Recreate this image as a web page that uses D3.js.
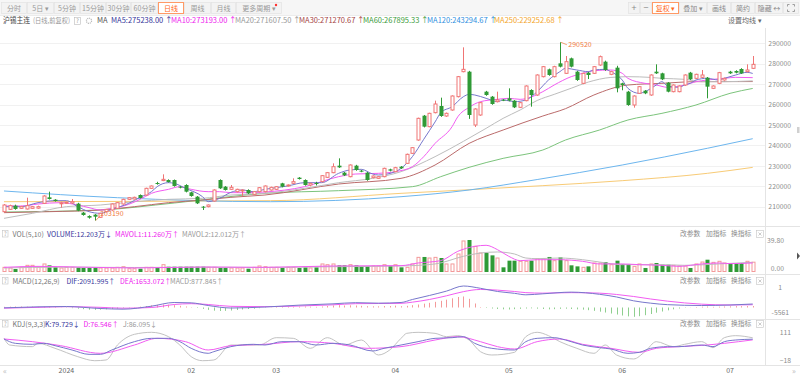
<!DOCTYPE html>
<html>
<head>
<meta charset="utf-8">
<script src="https://cdn.jsdelivr.net/npm/d3@7"></script>
<style>
  body { margin: 0; background: #fff; }
  #chart { width: 800px; height: 377px; overflow: hidden; }
</style>
</head>
<body>
<div id="chart"></div>
<script>
// ---- trading days (沪锡主连, 日线) ----
const decDays = [15,18,19,20,21,22,25,26,27,28,29];
const janDays = [2,3,4,5,8,9,10,11,12,15,16,17,18,19,22,23,24,25,26,29,30,31];
const febDays = [1,2,5,6,7,8,19,20,21,22,23,26,27,28,29];
const marDays = [1,4,5,6,7,8,11,12,13,14,15,18,19,20,21,22,25,26,27,28,29];
const aprDays = [1,2,3,8,9,10,11,12,15,16,17,18,19,22,23,24,25,26,29,30];
const mayDays = [6,7,8,9,10,13,14,15,16,17,20,21,22,23,24,27,28,29,30,31];
const junDays = [3,4,5,6,7,11,12,13,14,17,18,19,20,21,24,25,26,27,28];
const julDays = [1,2,3,4,5];

const xTickDates  = ['2024-01-02','2024-02-01','2024-03-01','2024-04-01','2024-05-06','2024-06-03','2024-07-01'];
const xTickLabels = ['2024','02','03','04','05','06','07'];

// ---- OHLC ----
const opens = [
  207568,208710,210506,209200,208874,209200,209300,211648,214586,213443,
  211700,211648,211811,211485,207078,205446,206099,204794,207568,208384,
  209200,211322,213606,213770,215728,215728,218992,221600,222800,223072,
  223072,219808,220624,217034,214912,210016,210016,212790,223072,219808,
  218502,217360,217900,218176,216054,217360,217360,218175,218502,221440,
  220134,221440,224214,223072,220624,221600,222256,224378,226662,230090,
  226662,224704,230090,227642,226662,224214,223888,224704,228294,227152,
  229600,231232,236128,242656,254570,249184,256038,259302,254406,257344,
  263872,276112,276112,250000,254896,266320,263872,261424,262400,263056,
  261914,258650,261914,267136,264688,273664,277254,273664,280192,275296,
  282640,276112,270400,275622,275296,279376,281008,274806,278070,270400,
  266320,259792,265504,266810,264688,276112,275296,270726,266320,266320,
  269584,275622,272848,273338,273174,267952,270400,272032,276112,276438,
  277417,276112,277744
];
const highs = [
  211300,211000,211000,210400,214422,210300,210500,215600,217360,213700,
  212400,212400,213770,211900,207400,205800,206400,207000,208900,211600,
  212300,213900,214700,214900,216000,219300,220400,222200,225846,223400,
  223300,220100,221000,217300,215200,210300,211100,218500,223400,220100,
  220624,218800,218500,218500,217700,219600,220400,219800,220100,221700,
  220900,223888,224500,223400,221700,222200,225500,227000,231232,233680,
  227000,230700,230500,228000,227000,225300,225000,229100,228600,229500,
  229900,236000,239200,253600,254900,256000,261914,263382,256100,264500,
  274000,288026,276500,258200,261300,266700,264200,266320,262700,267952,
  262200,261300,269400,267500,274800,278900,277600,279000,290520,283782,
  283000,276500,275600,276000,278900,284000,281500,276500,279000,270700,
  266700,264500,269100,267100,274800,279702,275600,271000,269900,269400,
  274800,276000,275100,276928,273500,269400,276000,273200,276500,276800,
  277800,279702,283782
];
const lows = [
  207100,208400,208500,208900,208600,209000,209000,211300,213500,212500,
  209526,211400,211500,207800,205600,204141,203190,204500,207200,208000,
  209000,211000,213300,213500,214000,215400,218700,220800,222500,221800,
  219800,219000,217000,214900,211300,208384,209700,212500,218700,217900,
  218200,217000,215238,216200,215800,217000,217000,217900,218200,219500,
  219900,221200,223300,220300,220000,220400,222000,224100,226400,229000,
  225000,224400,227600,226900,222700,223900,223600,224400,227300,226900,
  228500,230900,235800,242300,248800,248900,255700,254000,254000,257000,
  263500,275800,253000,249000,254500,264300,259900,261100,261700,261600,
  258300,258300,261600,258976,264300,273300,274100,273300,278200,275000,
  278200,271600,270000,272500,275000,279000,276500,274400,266000,267000,
  259400,258486,265200,265100,264300,275000,272000,266000,266000,266000,
  269200,272000,272500,273000,263056,267600,270000,271700,275000,275300,
  275000,275800,277400
];
const closes = [
  210832,210506,208874,210016,210506,210016,210016,215238,213770,212790,
  211900,212138,212464,208058,205936,204630,205120,206752,208710,211322,
  211974,213606,214422,214586,214259,218992,220134,221300,223400,222093,
  220134,219482,217360,215238,211648,209526,210832,218176,218992,218176,
  219482,218502,218176,216544,217360,219318,220134,219482,219808,219808,
  220624,222256,223562,220624,221440,221300,225194,226662,229600,229274,
  225357,230416,227968,227152,223072,225030,224704,228784,227642,229110,
  228784,235638,238902,253264,249184,255712,260282,254406,255712,264198,
  273664,277254,254896,257834,260934,264688,260282,262240,262000,261914,
  258650,260934,269094,264688,274480,278560,274480,278560,278560,281008,
  278560,272032,275296,274480,278560,283456,276928,276112,267952,269584,
  259792,264198,268768,265504,274480,275296,272358,266320,269584,269094,
  274480,272358,274806,274480,268768,269094,275622,272848,275296,275622,
  275296,276928,279702
];
// volume, 万手
const volumes = [
  5.8,5.0,3.7,5.8,8.3,8.3,6.2,10.0,8.3,6.2,
  5.0,5.8,5.8,5.8,5.0,5.0,5.8,5.0,5.0,5.0,
  5.8,6.6,4.1,4.1,4.1,5.8,5.8,5.8,9.1,6.6,
  6.6,6.6,6.6,6.6,6.6,6.6,5.8,5.8,5.0,5.0,
  5.0,5.0,5.0,4.1,5.8,7.5,6.6,5.8,5.8,5.0,
  5.8,5.8,5.0,5.8,5.0,5.8,10.0,9.1,10.0,8.3,
  8.3,9.1,8.3,7.5,7.5,7.5,7.5,9.1,7.5,9.1,
  5.8,5.8,10.0,18.2,18.7,17.4,18.2,17.4,10.0,10.0,
  22.4,38.6,39.8,31.9,23.6,23.6,20.7,17.4,5.8,14.1,
  14.1,13.3,13.3,14.1,16.6,16.6,18.7,14.1,18.2,14.1,
  8.3,7.0,5.8,7.0,11.2,11.2,12.4,9.1,14.1,10.0,
  10.0,7.0,10.0,5.0,10.0,11.2,9.1,9.1,8.3,7.5,
  7.5,5.0,10.0,12.4,15.3,12.0,13.3,11.2,10.0,10.0,
  11.2,13.3,12.203
];

// ---- moving averages: [day index, value] ----
const ma5Pts = [[0,210016],[3,210016],[6,211974],[9,212954],[11,212954],[13,210016],[15,207568],[17,206752],[19,208710],[22,211648],[24,214586],[26,217360],[27,219808],[29,221766],[30,221440],[32,218992],[35,214912],[36,212464],[38,214096],[40,217034],[42,218176],[44,217360],[46,218502],[50,220134],[53,221766],[56,221766],[59,226336],[61,227968],[63,228294],[65,226010],[66,225520],[69,227152],[70,228784],[72,234496],[74,243000],[76,251500],[77,256000],[79,258976],[81,263872],[82,265000],[83,264688],[85,263056],[87,261424],[88,262240],[90,261424],[92,262240],[94,266320],[96,272032],[98,276112],[99,277744],[101,276928],[103,276112],[104,276928],[106,277254],[107,276112],[109,272032],[110,267952],[112,265504],[113,266320],[115,269584],[116,271216],[117,269094],[119,268442],[120,269584],[121,270400],[122,272032],[124,272848],[126,272032],[127,272848],[129,274480],[131,275786],[132,275238]];
const ma10Pts = [[0,210342],[3,210342],[6,211322],[10,211974],[13,210832],[15,209526],[17,208384],[19,209200],[22,211158],[24,213606],[26,216544],[29,218502],[31,219808],[33,218502],[36,217360],[38,217360],[40,216870],[43,216870],[46,217197],[53,219808],[59,224704],[62,226010],[66,226336],[69,227152],[72,229600],[74,234500],[76,241000],[79,249184],[80,254000],[82,258650],[84,261424],[87,262566],[89,263056],[91,262566],[95,266320],[97,269584],[100,273664],[102,275296],[104,276602],[107,276928],[109,275296],[110,272848],[113,270400],[115,269584],[117,268442],[120,269584],[122,271216],[124,272032],[127,272848],[129,273338],[132,273193]];
const ma20Pts = [[0,204304],[5,206752],[11,210016],[17,210832],[23,212464],[29,213606],[35,214096],[40,215728],[46,216544],[53,219000],[59,221766],[65,223888],[70,227152],[76,234500],[81,242000],[85,248368],[88,253264],[91,257344],[94,262000],[97,265000],[100,268000],[103,271000],[107,273300],[110,273656],[114,273300],[116,272848],[120,272358],[123,271216],[127,271216],[132,271607]];
const ma30Pts = [[0,207078],[8,207568],[17,208384],[23,210016],[29,211974],[35,213280],[40,214586],[46,215728],[59,221114],[70,223888],[76,230416],[82,241000],[88,247552],[95,254406],[99,258000],[104,264688],[110,269584],[116,270400],[122,271216],[132,271270]];
const ma60Pts = [[0,207400],[17,208400],[30,211800],[46,216560],[59,217850],[72,219808],[77,224704],[82,229274],[88,233680],[95,237760],[99,242656],[105,247552],[110,252448],[116,255712],[122,259792],[128,265504],[132,267895]];
const ma120Pts = [[0,217687],[20,214406],[47,212447],[70,214896],[82,218176],[94,223300],[109,230416],[124,238600],[132,243294]];
const ma250Pts = [[0,212447],[47,212950],[70,216544],[95,220300],[109,222736],[124,226336],[132,229252]];

const priceTicks = [210000,220000,230000,240000,250000,260000,270000,280000,290000];
const maLegend = ['MA5:275238.00','MA10:273193.00','MA20:271607.50','MA30:271270.67','MA60:267895.33','MA120:243294.67','MA250:229252.68'];
const highMark = 290520, lowMark = 203190;

// ---- volume averages ----
const mavol1Pts = [[0,5.8],[6,7.0],[13,6.2],[23,5.0],[35,6.2],[46,5.8],[58,7.5],[70,7.9],[73,11.2],[77,14.1],[80,25.7],[83,31.9],[85,33.2],[87,27.8],[89,19.5],[91,14.1],[94,15.3],[98,15.3],[102,13.3],[105,10.0],[109,10.0],[112,9.1],[116,8.3],[119,7.0],[123,10.0],[126,11.2],[128,10.4],[132,11.26]];
const mavol2Pts = [[0,5.0],[10,6.0],[23,5.6],[35,6.0],[46,5.6],[58,6.6],[70,7.5],[76,10.0],[81,19.5],[84,23.6],[87,24.9],[90,22.4],[92,17.4],[94,16.6],[98,17.4],[102,15.3],[105,12.4],[109,9.1],[112,9.1],[116,9.1],[120,8.3],[126,10.0],[132,12.012]];
const volLegend = ['VOLUME:12.203万','MAVOL1:11.260万','MAVOL2:12.012万'];

// ---- MACD(12,26,9) ----
const difPts = [[0,-200],[6,400],[11,600],[17,-600],[21,-1000],[26,800],[30,3000],[33,2800],[36,1200],[40,-300],[46,300],[52,1400],[58,2200],[62,2900],[66,2600],[70,3000],[72,4800],[75,7200],[78,9800],[81,12874],[84,11500],[87,9600],[90,8500],[92,7600],[95,8200],[100,9200],[105,7900],[108,6300],[111,4000],[114,2600],[117,1700],[123,1200],[128,1500],[132,2092]];
const deaPts = [[0,-400],[6,100],[11,500],[17,100],[21,-400],[26,0],[30,1800],[33,2300],[36,1800],[40,700],[46,500],[52,900],[58,1600],[62,2300],[66,2400],[70,2500],[72,3200],[75,4800],[78,7000],[81,9500],[84,10800],[87,10400],[90,9600],[92,8900],[95,8600],[100,8900],[105,8600],[108,7800],[111,6600],[114,5100],[117,3800],[123,2000],[128,1500],[132,1653]];
const macdHist = [
  400,500,600,600,500,500,400,500,500,300,100,
  -200,-400,-700,-1000,-1300,-1400,-1300,-1100,-900,-700,-400,-200,
  200,500,900,1300,1600,1800,1700,1400,1000,600,200,-300,
  -800,-1400,-1900,-2100,-2000,-1800,-1500,-1200,-900,-700,-400,-200,
  100,300,400,500,400,500,600,500,400,600,900,1200,1400,1200,1300,1200,1000,800,700,700,900,900,1100,
  800,1000,1400,1800,2300,2800,3400,4000,4700,5500,6300,6600,5200,2400,300,
  -300,-600,-900,-1100,-1200,-1000,-800,-600,-500,-700,-900,-1100,-1000,-800,-700,-900,-1100,-1300,-1600,-2000,-2500,-3000,-3600,
  -4200,-4800,-5300,-5561,-5200,-4600,-3900,-3100,-2400,-1700,-1100,-600,-200,
  100,300,500,600,400,500,600,700,800,800,850,878
];
const macdLegend = ['DIF:2091.995','DEA:1653.072','MACD:877.845'];
const macdAxisLabels = ['1','-5561'];

// ---- KDJ(9,3,3) ----
const kPts = [[0,80.6],[2,60.9],[5,56.4],[7,60.9],[9,50.3],[12,30.6],[15,10.9],[17,10.9],[19,30.6],[23,68.5],[26,83.6],[29,83.6],[31,68.5],[33,38.2],[36,15.5],[37,23.1],[40,45.8],[44,56.4],[46,53.3],[49,68.5],[52,68.5],[55,53.3],[58,60.9],[61,53.3],[65,26.1],[67,38.2],[70,53.3],[73,68.5],[76,83.6],[79,86.6],[81,91.2],[83,60.9],[86,38.2],[90,30.6],[92,68.5],[94,83.6],[97,86.6],[99,76.0],[102,53.3],[105,41.2],[107,35.2],[110,15.5],[112,20.0],[114,38.2],[117,45.8],[119,45.8],[123,53.3],[125,45.8],[127,68.5],[129,76.0],[132,79.729]];
const dPts = [[0,80.6],[5,68.5],[10,50.3],[17,15.5],[23,53.3],[27,83.6],[32,68.5],[36,30.6],[40,50.3],[46,56.4],[52,68.5],[58,60.9],[64,38.2],[70,45.8],[76,76.0],[80,91.2],[84,68.5],[87,45.8],[90,35.2],[94,68.5],[98,80.6],[102,56.4],[107,38.2],[112,20.0],[115,38.2],[119,45.8],[124,53.3],[127,60.9],[132,76.546]];
const jPts = [[0,83.6],[1,53.3],[5,45.8],[6,60.9],[9,38.2],[13,0.3],[16,-18],[18,-14.8],[20,53.3],[23,101.8],[26,110.9],[29,91.2],[31,53.3],[33,0.3],[35,-18],[37,-14.8],[40,53.3],[45,53.3],[48,86.6],[51,83.6],[54,38.2],[57,86.6],[60,53.3],[63,76.0],[66,7.9],[68,30.6],[70,83.6],[71,106.3],[73,110.9],[76,106.3],[78,91.2],[80,95.7],[82,76.0],[84,23.1],[86,7.9],[90,20.0],[91,53.3],[92,91.2],[94,111],[96,95.7],[98,68.5],[101,38.2],[104,15.5],[106,53.3],[108,7.9],[111,-10.2],[113,23.1],[115,68.5],[118,45.8],[120,56.4],[123,68.5],[125,41.2],[127,86.6],[129,95.7],[132,86.095]];
const kdjLegend = ['K:79.729','D:76.546','J:86.095'];
const kdjAxisTicks = [111, -18];

// ---------------------------------------------------------------
const pad = d => String(d).padStart(2, '0');
const dates = [].concat(
  decDays.map(d => `2023-12-${pad(d)}`),
  janDays.map(d => `2024-01-${pad(d)}`),
  febDays.map(d => `2024-02-${pad(d)}`),
  marDays.map(d => `2024-03-${pad(d)}`),
  aprDays.map(d => `2024-04-${pad(d)}`),
  mayDays.map(d => `2024-05-${pad(d)}`),
  junDays.map(d => `2024-06-${pad(d)}`),
  julDays.map(d => `2024-07-${pad(d)}`)
);
const bars = dates.map((d, i) => ({
  date: d, o: opens[i], h: highs[i], l: lows[i], c: closes[i], v: volumes[i], m: macdHist[i]
}));

const W = 800, H = 377;
const axisX = 765;           // left edge of the right axis column
const FONT = '"Noto Sans CJK SC", "Noto Sans", sans-serif';
const UP = '#f07474', DOWN = '#2f9a36';
const GRID = '#f1f1f1', SEP = '#e4e4e4';

const svg = d3.select('#chart').append('svg')
  .attr('width', W).attr('height', H)
  .attr('viewBox', `0 0 ${W} ${H}`)
  .style('font-family', FONT);

svg.append('rect').attr('width', W).attr('height', H).attr('fill', '#fff');

// scales
const x = d3.scaleBand().domain(dates).range([1.16, 755.54])
  .paddingInner(0.3).paddingOuter(0.15);
const cx = d => x(d) + x.bandwidth() / 2;
const px = i => Math.round(cx(dates[i])) + 0.5;

const yP = d3.scaleLinear().domain([210000, 290000]).range([206.7, 43.3]);
const yV = d3.scaleLinear().domain([0, 39.8]).range([272, 240]);
const yM = d3.scaleLinear().domain([-5561, 12874]).range([316.8, 286]);
const yK = d3.scaleLinear().domain([-18, 111]).range([360.7, 332.3]);

const defs = svg.append('defs');
function clip(id, y0, y1) {
  defs.append('clipPath').attr('id', id).append('rect')
    .attr('x', 0).attr('y', y0).attr('width', axisX).attr('height', y1 - y0);
  return `url(#${id})`;
}

// ---------- toolbar ----------
svg.append('rect').attr('x', 0).attr('y', 0).attr('width', W).attr('height', 15.5).attr('fill', '#f6f6f6');
svg.append('line').attr('x1', 0).attr('x2', W).attr('y1', 15.5).attr('y2', 15.5).attr('stroke', '#ececec');

const tabLabels = ['分时','5日 ▾','5分钟','15分钟','30分钟','60分钟','日线','周线','月线','更多周期 ▾'];
const tabEdges = [1,27,54,80,106,131,158,184,211,236,282];
tabLabels.forEach((t, i) => {
  const x0 = tabEdges[i], x1 = tabEdges[i + 1];
  const active = t === '日线';
  svg.append('rect').attr('x', x0 + 0.5).attr('y', 2.5).attr('width', x1 - x0 - 1).attr('height', 11)
    .attr('fill', active ? '#fff' : '#f3f3f3')
    .attr('stroke', active ? '#ff9a66' : '#e3e3e3').attr('stroke-width', active ? 1 : 0.7);
  svg.append('text').attr('x', (x0 + x1) / 2).attr('y', 10.6).attr('text-anchor', 'middle')
    .attr('font-size', 7).attr('fill', active ? '#ff6a1a' : '#9a9a9a').text(t);
});
svg.append('circle').attr('cx', 276).attr('cy', 5).attr('r', 1.2).attr('fill', '#ff3030');

const toolLabels = ['+','−','复权 ▾','叠加 ▾','画线','简约','隐藏 ↔',''];
const toolEdges = [628,640,652,679,707,731,755,783,799];
toolLabels.forEach((t, i) => {
  const x0 = toolEdges[i], x1 = toolEdges[i + 1];
  const active = t.startsWith('复权');
  svg.append('rect').attr('x', x0 + 0.5).attr('y', 2.5).attr('width', x1 - x0 - 1).attr('height', 11)
    .attr('fill', active ? '#fff' : '#f3f3f3')
    .attr('stroke', active ? '#ff9a66' : '#e3e3e3').attr('stroke-width', active ? 1 : 0.7);
  svg.append('text').attr('x', (x0 + x1) / 2).attr('y', 10.6).attr('text-anchor', 'middle')
    .attr('font-size', t.length === 1 ? 9 : 7).attr('fill', active ? '#ff6a1a' : '#8a8a8a').text(t);
});
// fullscreen icon
const fx = 791, fy = 8;
[[-1,-1],[1,-1],[-1,1],[1,1]].forEach(([sx, sy]) => {
  svg.append('path')
    .attr('d', `M${fx + sx * 3.5},${fy + sy * 1.5}V${fy + sy * 3.5}H${fx + sx * 1.5}`)
    .attr('fill', 'none').attr('stroke', '#888').attr('stroke-width', 0.8);
});

// ---------- MA legend row ----------
const legY = 23.2;
svg.append('text').attr('x', 3).attr('y', legY).attr('font-size', 7.5).attr('fill', '#444')
  .attr('textLength', 27).attr('lengthAdjust', 'spacingAndGlyphs').text('沪锡主连');
svg.append('text').attr('x', 33).attr('y', legY).attr('font-size', 7).attr('fill', '#999')
  .attr('textLength', 37).attr('lengthAdjust', 'spacingAndGlyphs').text('(日线,前复权)');
svg.append('rect').attr('x', 74.5).attr('y', 17.5).attr('width', 6).attr('height', 7).attr('fill', '#fff').attr('stroke', '#bbb').attr('stroke-width', 0.6);
svg.append('text').attr('x', 77.5).attr('y', 23).attr('text-anchor', 'middle').attr('font-size', 6).attr('fill', '#999').text('?');
svg.append('circle').attr('cx', 89).attr('cy', 20.8).attr('r', 2.6).attr('fill', 'none').attr('stroke', '#bbb').attr('stroke-width', 1.2).attr('stroke-dasharray', '1.2 0.8');
svg.append('text').attr('x', 97).attr('y', legY).attr('font-size', 7.5).attr('fill', '#555').text('MA');

const maText = ['#35359a','#ee22ee','#9a9a9a','#a54545','#3b9b3b','#2f8fe0','#f3a52a'];
const maLine = ['#7777cc','#f25cf2','#bdbdbd','#bb6b6b','#7cc47c','#6db6ee','#f8cb76'];
const maX = [111, 171, 235, 299, 363, 427, 494];
maLegend.forEach((t, i) => {
  svg.append('text').attr('x', maX[i]).attr('y', legY).attr('font-size', 7.5).attr('fill', maText[i]).text(t + ' ↑');
});
svg.append('text').attr('x', 728).attr('y', legY).attr('font-size', 7).attr('fill', '#666').text('设置均线  ▾');

// ---------- frame / separators ----------
[226.5, 274.5, 319.5, 365.5].forEach(yy => {
  svg.append('line').attr('x1', 0).attr('x2', W).attr('y1', yy).attr('y2', yy).attr('stroke', SEP);
});
svg.append('line').attr('x1', axisX + 0.5).attr('x2', axisX + 0.5).attr('y1', 28).attr('y2', 365.5).attr('stroke', SEP);

// ---------- main panel ----------
const gMain = svg.append('g');
gMain.selectAll('.grid').data(priceTicks).enter().append('line')
  .attr('x1', 0).attr('x2', axisX).attr('y1', d => Math.round(yP(d)) + 0.5).attr('y2', d => Math.round(yP(d)) + 0.5)
  .attr('stroke', GRID);

const yAxis = svg.append('g').attr('transform', `translate(${axisX},0)`)
  .call(d3.axisRight(yP).tickValues(priceTicks).tickSize(0).tickFormat(d3.format('d')));
yAxis.select('.domain').remove();
yAxis.selectAll('text').attr('x', 26).attr('text-anchor', 'end')
  .attr('font-family', FONT).attr('font-size', 6.8).attr('fill', '#8c8c8c');

const mainClip = clip('clipMain', 28, 226);
const line = (ys) => d3.line().x(p => cx(dates[p[0]])).y(p => ys(p[1])).curve(d3.curveMonotoneX);
const maSets = [ma250Pts, ma120Pts, ma60Pts, ma30Pts, ma20Pts, ma10Pts, ma5Pts];
const maSetColors = [maLine[6], maLine[5], maLine[4], maLine[3], maLine[2], maLine[1], maLine[0]];
const gLines = gMain.append('g').attr('clip-path', mainClip);
maSets.forEach((pts, k) => {
  gLines.append('path').attr('d', line(yP)(pts)).attr('fill', 'none')
    .attr('stroke', maSetColors[k]).attr('stroke-width', 1);
});

const gC = gMain.append('g').attr('clip-path', mainClip);
const candle = gC.selectAll('.candle').data(bars).enter().append('g');
candle.append('line')
  .attr('x1', (d, i) => px(i)).attr('x2', (d, i) => px(i))
  .attr('y1', d => yP(d.h)).attr('y2', d => yP(d.l))
  .attr('stroke', d => d.c >= d.o ? UP : DOWN).attr('stroke-width', 1);
candle.append('rect')
  .attr('x', (d, i) => d.c >= d.o ? px(i) - 1.5 : px(i) - 2)
  .attr('width', d => d.c >= d.o ? 3 : 4)
  .attr('y', d => yP(Math.max(d.o, d.c)))
  .attr('height', d => Math.max(1, yP(Math.min(d.o, d.c)) - yP(Math.max(d.o, d.c))))
  .attr('fill', d => d.c >= d.o ? '#fff' : DOWN)
  .attr('stroke', d => d.c >= d.o ? UP : 'none').attr('stroke-width', 1);

// high / low marks
const hiI = highs.indexOf(highMark), loI = lows.indexOf(lowMark);
const hx = cx(dates[hiI]), hy = yP(highMark);
gMain.append('path').attr('d', `M${hx + 1},${hy}L${hx + 7},${hy + 2.5}`).attr('stroke', '#f08a55').attr('stroke-width', 0.8).attr('fill', 'none');
gMain.append('text').attr('x', hx + 8.5).attr('y', hy + 5.2).attr('font-size', 7).attr('fill', '#f07a40').text(String(highMark));
const lx = cx(dates[loI]), ly = yP(lowMark);
gMain.append('path').attr('d', `M${lx + 1},${ly}L${lx + 5},${ly - 4.5}`).attr('stroke', '#f08a55').attr('stroke-width', 0.8).attr('fill', 'none');
gMain.append('text').attr('x', lx + 5.5).attr('y', ly - 4.3).attr('font-size', 7).attr('fill', '#f07a40').text(String(lowMark));

// ---------- indicator panel headers ----------
function panelHeader(yMid, name, items, colors, xs) {
  svg.append('rect').attr('x', 2.5).attr('y', yMid - 3.5).attr('width', 5.5).attr('height', 6.5)
    .attr('fill', '#fff').attr('stroke', '#c4c4c4').attr('stroke-width', 0.6);
  svg.append('text').attr('x', 5.25).attr('y', yMid + 2.1).attr('text-anchor', 'middle')
    .attr('font-size', 5.5).attr('fill', '#999').text('?');
  svg.append('text').attr('x', 12.5).attr('y', yMid + 2.5).attr('font-size', 7).attr('fill', '#777').text(name);
  items.forEach((t, i) => {
    svg.append('text').attr('x', xs[i]).attr('y', yMid + 2.5).attr('font-size', 7)
      .attr('fill', colors[i]).text(t);
  });
  [['改参数', 680], ['加指标', 706], ['换指标', 731]].forEach(([t, xx]) => {
    svg.append('text').attr('x', xx).attr('y', yMid + 2.3).attr('font-size', 6.8).attr('fill', '#8a8a8a').text(t);
  });
  svg.append('rect').attr('x', 756.5).attr('y', yMid - 3.5).attr('width', 7).attr('height', 7)
    .attr('fill', '#fff').attr('stroke', '#c4c4c4').attr('stroke-width', 0.6);
  svg.append('path').attr('d', `M758.5,${yMid - 1.5}l3,3M761.5,${yMid - 1.5}l-3,3`)
    .attr('stroke', '#aaa').attr('stroke-width', 0.6);
}
const indColors = ['#35359a', '#ee22ee', '#999'];
panelHeader(234, 'VOL(5,10)', [volLegend[0] + '↓', volLegend[1] + '↑', volLegend[2] + '↑'], indColors, [47, 115, 182]);
panelHeader(281, 'MACD(12,26,9)', [macdLegend[0] + '↑', macdLegend[1] + '↑', macdLegend[2] + '↑'], indColors, [66.5, 120, 170]);
panelHeader(324, 'KDJ(9,3,3)', [kdjLegend[0] + '↓', kdjLegend[1] + '↑', kdjLegend[2] + '↓'], indColors, [45, 83.5, 123]);

// ---------- volume ----------
const gVol = svg.append('g').attr('clip-path', clip('clipVol', 238, 274));
gVol.selectAll('.vbar').data(bars).enter().append('rect')
  .attr('x', (d, i) => d.c >= d.o ? px(i) - 1.5 : px(i) - 2)
  .attr('width', d => d.c >= d.o ? 3 : 4)
  .attr('y', d => yV(d.v))
  .attr('height', d => Math.max(0.5, yV(0) - yV(d.v) - (d.c >= d.o ? 0.5 : 0)))
  .attr('fill', d => d.c >= d.o ? 'none' : DOWN)
  .attr('stroke', d => d.c >= d.o ? '#f39a9a' : 'none').attr('stroke-width', 1);
gVol.append('path').attr('d', line(yV)(mavol2Pts)).attr('fill', 'none').attr('stroke', '#bdbdbd').attr('stroke-width', 1);
gVol.append('path').attr('d', line(yV)(mavol1Pts)).attr('fill', 'none').attr('stroke', '#f25cf2').attr('stroke-width', 1);

const vAxis = svg.append('g').attr('transform', `translate(${axisX},0)`)
  .call(d3.axisRight(yV).tickValues([0, 39.8]).tickSize(0).tickFormat(d3.format('.2f')));
vAxis.select('.domain').remove();
vAxis.selectAll('text').attr('x', 19).attr('text-anchor', 'end')
  .attr('font-family', FONT).attr('font-size', 6.8).attr('fill', '#8c8c8c')
  .attr('dy', d => d === 0 ? '-0.2em' : '0.4em');

// ---------- MACD ----------
const gMacd = svg.append('g').attr('clip-path', clip('clipMacd', 276, 319));
gMacd.selectAll('.mbar').data(bars).enter().append('line')
  .attr('x1', (d, i) => px(i)).attr('x2', (d, i) => px(i))
  .attr('y1', yM(0)).attr('y2', d => yM(d.m))
  .attr('stroke', d => d.m >= 0 ? '#f39a9a' : '#8fcf8f').attr('stroke-width', 1);
gMacd.append('path').attr('d', line(yM)(deaPts)).attr('fill', 'none').attr('stroke', '#f25cf2').attr('stroke-width', 1);
gMacd.append('path').attr('d', line(yM)(difPts)).attr('fill', 'none').attr('stroke', '#7777cc').attr('stroke-width', 1);
svg.append('text').attr('x', 782).attr('y', yM(12874) + 3.5).attr('text-anchor', 'end')
  .attr('font-size', 6.8).attr('fill', '#8c8c8c').text(macdAxisLabels[0]);
svg.append('text').attr('x', 789).attr('y', yM(-5561) - 1.5).attr('text-anchor', 'end')
  .attr('font-size', 6.8).attr('fill', '#8c8c8c').text(macdAxisLabels[1]);

// ---------- KDJ ----------
const gKdj = svg.append('g').attr('clip-path', clip('clipKdj', 328, 365));
gKdj.append('path').attr('d', line(yK)(jPts)).attr('fill', 'none').attr('stroke', '#c2c2c2').attr('stroke-width', 1);
gKdj.append('path').attr('d', line(yK)(dPts)).attr('fill', 'none').attr('stroke', '#f25cf2').attr('stroke-width', 1);
gKdj.append('path').attr('d', line(yK)(kPts)).attr('fill', 'none').attr('stroke', '#7777cc').attr('stroke-width', 1);
const kAxis = svg.append('g').attr('transform', `translate(${axisX},0)`)
  .call(d3.axisRight(yK).tickValues(kdjAxisTicks).tickSize(0));
kAxis.select('.domain').remove();
kAxis.selectAll('text').attr('x', 26).attr('text-anchor', 'end')
  .attr('font-family', FONT).attr('font-size', 6.8).attr('fill', '#8c8c8c');

// ---------- x axis ----------
const xAxis = svg.append('g').attr('transform', 'translate(0,366)')
  .call(d3.axisBottom(x).tickValues(xTickDates).tickSize(0).tickFormat((d, i) => xTickLabels[i]));
xAxis.select('.domain').remove();
xAxis.selectAll('text').attr('y', 2).attr('dy', '0.75em')
  .attr('font-family', FONT).attr('font-size', 7).attr('fill', '#666');
svg.append('text').attr('x', 5).attr('y', 374).attr('text-anchor', 'middle').attr('font-size', 8).attr('fill', '#bbb').text('«');
svg.append('text').attr('x', 794).attr('y', 374).attr('text-anchor', 'middle').attr('font-size', 8).attr('fill', '#bbb').text('»');

// small handles on the right edge
svg.append('rect').attr('x', 797).attr('y', 127).attr('width', 2.5).attr('height', 6).attr('fill', '#d0d0d0');
svg.append('path').attr('d', 'M797,252.5l3,3.5l-3,3.5z').attr('fill', '#555');
</script>
</body>
</html>
